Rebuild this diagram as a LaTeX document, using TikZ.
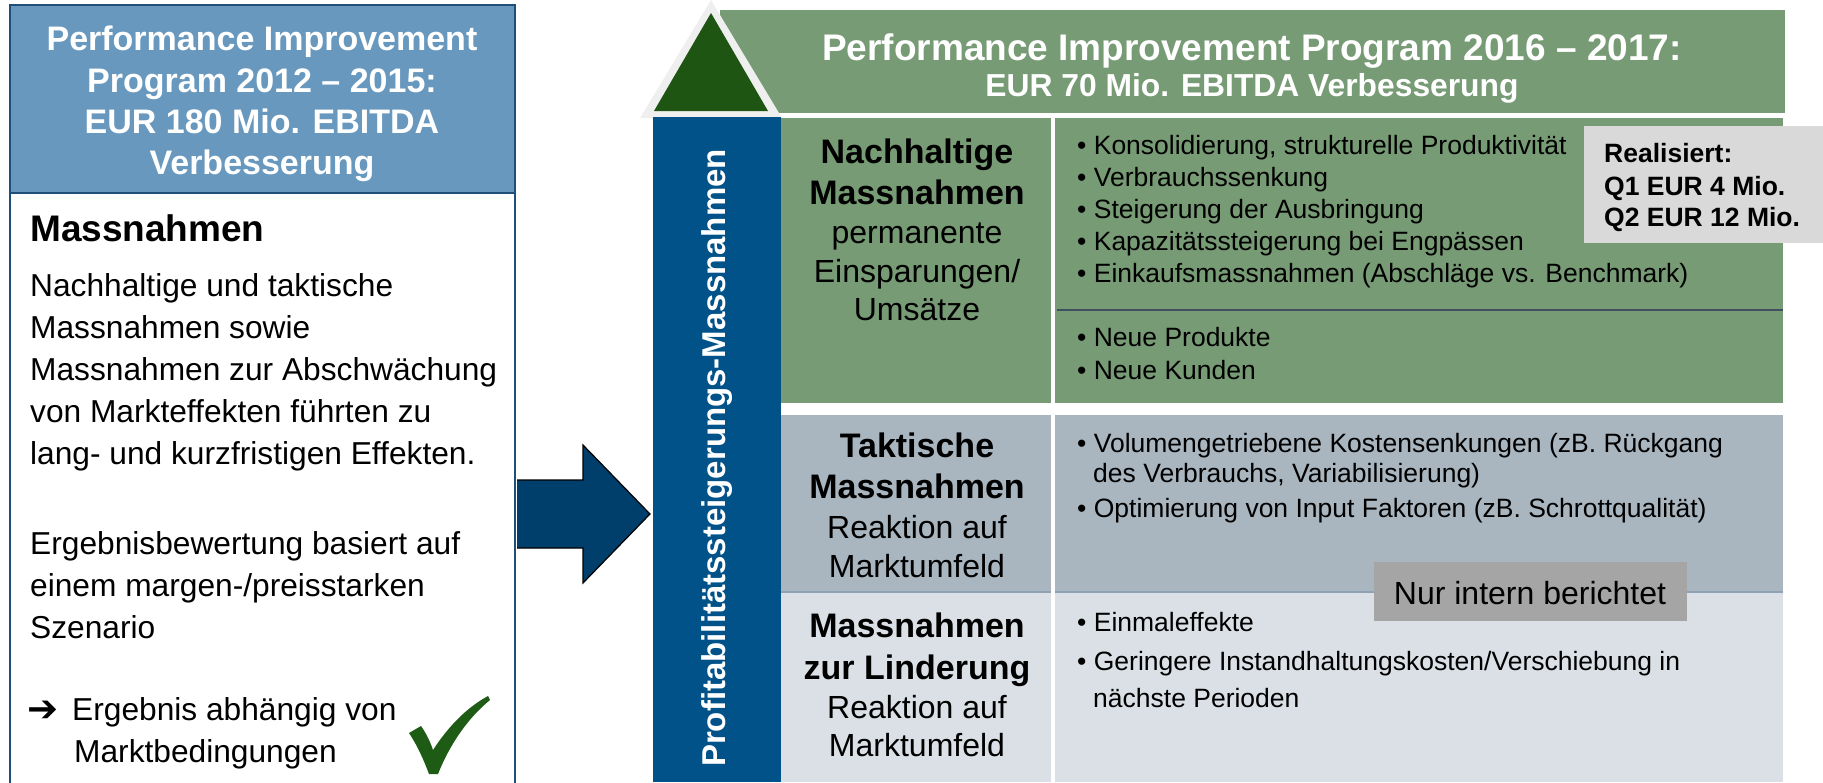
\documentclass[tikz,border=0pt]{standalone}
\usepackage{fontspec}
\setmainfont{Liberation Sans}
\newfontfamily\symbolfont{DejaVu Sans}
\usetikzlibrary{positioning}

\definecolor{headblue}{HTML}{6898BE}
\definecolor{frameblue}{HTML}{1F4E79}
\definecolor{arrowblue}{HTML}{003F6B}
\definecolor{barblue}{HTML}{005289}
\definecolor{progreen}{HTML}{779B74}
\definecolor{darkgreen}{HTML}{1E5512}
\definecolor{trigrey}{HTML}{EFEFEF}
\definecolor{rowgrey}{HTML}{A9B6C0}
\definecolor{rowlight}{HTML}{DAE0E5}
\definecolor{boxgrey}{HTML}{D9D9D9}
\definecolor{taggrey}{HTML}{A5A5A5}
\definecolor{slateline}{HTML}{3F4F5F}
\definecolor{rowline}{HTML}{8FA2B3}
\definecolor{checkgreen}{HTML}{1E5B14}

\newcommand{\fsz}[1]{\fontsize{#1}{#1}\selectfont}

\begin{document}
\begin{tikzpicture}[x=1pt,y=-1pt,
    lbl/.style={inner sep=0pt,anchor=base},
    txt/.style={inner sep=0pt,anchor=base west},
    whitebold/.style={lbl,text=white,font=\fsz{34}\bfseries},
    bodytxt/.style={txt,font=\fsz{31.7}},
    rowhead/.style={lbl,font=\fsz{34}\bfseries},
    rowsub/.style={lbl,font=\fsz{32}},
    bullet/.style={txt,font=\fsz{26.5}}]
    \useasboundingbox (0,0) rectangle (1823,782);
    \clip (0,0) rectangle (1823,782);

    % left panel: old program
    \draw[frameblue,line width=1.5pt] (10,193) rectangle (515,800);
    \draw[frameblue,line width=2pt,fill=headblue] (10,5) rectangle (515,193);
    \node[whitebold] (old1) at (262,50) {Performance Improvement};
    \node[whitebold] (old2) at (262,92) {Program 2012 – 2015:};
    \node[whitebold] (old3) at (262,133) {EUR 180 Mio. EBITDA};
    \node[whitebold] (old4) at (262,174) {Verbesserung};

    \node[txt,font=\fsz{37}\bfseries] (mhead) at (30,241) {Massnahmen};
    \node[bodytxt] (lt1) at (30,296) {Nachhaltige und taktische};
    \node[bodytxt] (lt2) at (30,338) {Massnahmen sowie};
    \node[bodytxt] (lt3) at (30,380) {Massnahmen zur Abschwächung};
    \node[bodytxt] (lt4) at (30,422) {von Markteffekten führten zu};
    \node[bodytxt] (lt5) at (30,464) {lang- und kurzfristigen Effekten.};
    \node[bodytxt] (lt6) at (30,554) {Ergebnisbewertung basiert auf};
    \node[bodytxt] (lt7) at (30,596) {einem margen-/preisstarken};
    \node[bodytxt] (lt8) at (30,638) {Szenario};
    \node[txt,font=\fsz{37}\symbolfont\bfseries] (larr) at (27,721) {➔};
    \node[bodytxt] (lt9) at (72,720) {Ergebnis abhängig von};
    \node[bodytxt] (lt10) at (74,762) {Marktbedingungen};

    % check mark
    \fill[checkgreen] (409,733) -- (421,726) .. controls (426,733) and (430,741) .. (433,750)
        .. controls (448,727) and (466,708) .. (488,696) -- (490,700)
        .. controls (468,718) and (450,744) .. (438,774) -- (429,774)
        .. controls (423,758) and (417,745) .. (409,733) -- cycle;

    % big arrow
    \fill[arrowblue] (517,480) -- (583,480) -- (583,445) -- (650,514) -- (583,583) -- (583,548) -- (517,548) -- cycle;
    \draw[black,line width=1.2pt,line join=miter] (517,480) -- (583,480) -- (583,445) -- (650,514) -- (583,583) -- (583,548) -- (517,548);

    % right panel: new program
    \fill[progreen] (720,10) rectangle (1785,113);
    \fill[trigrey] (711,0) -- (782,118) -- (640,118) -- cycle;
    \fill[darkgreen] (711,13) -- (768,111) -- (654,111) -- cycle;
    \fill[barblue] (653,117) rectangle (781,782);
    \fill[progreen] (781,118) rectangle (1051,403);
    \fill[progreen] (1055,118) rectangle (1783,403);
    \fill[rowgrey] (781,415) rectangle (1051,592);
    \fill[rowgrey] (1055,415) rectangle (1783,592);
    \fill[rowlight] (781,592) rectangle (1051,782);
    \fill[rowlight] (1055,592) rectangle (1783,782);
    \draw[rowline,line width=1.2pt] (781,592) -- (1051,592) (1055,592) -- (1783,592);
    \draw[slateline,line width=1.5pt] (1057,310) -- (1783,310);

    \node[lbl,text=white,font=\fsz{37}\bfseries] (new1) at (1252,60) {Performance Improvement Program 2016 – 2017:};
    \node[lbl,text=white,font=\fsz{31.8}\bfseries] (new2) at (1252,96) {EUR 70 Mio. EBITDA Verbesserung};
    \node[text=white,font=\fsz{33}\bfseries,rotate=90,inner sep=0pt] (vbar) at (717,458) {Profitabilitätssteigerungs-Massnahmen};

    % row labels
    \node[rowhead] (r1a) at (917,163) {Nachhaltige};
    \node[rowhead] (r1b) at (917,204) {Massnahmen};
    \node[rowsub] (r1c) at (917,243) {permanente};
    \node[rowsub] (r1d) at (917,282) {Einsparungen/};
    \node[rowsub] (r1e) at (917,320) {Umsätze};
    \node[rowhead] (r2a) at (917,457) {Taktische};
    \node[rowhead] (r2b) at (917,498) {Massnahmen};
    \node[rowsub] (r2c) at (917,538) {Reaktion auf};
    \node[rowsub] (r2d) at (917,577) {Marktumfeld};
    \node[rowhead] (r3a) at (917,637) {Massnahmen};
    \node[rowhead] (r3b) at (917,679) {zur Linderung};
    \node[rowsub] (r3c) at (917,718) {Reaktion auf};
    \node[rowsub] (r3d) at (917,756) {Marktumfeld};

    % bullet lists
    \node[bullet] (b1) at (1077,154) {• Konsolidierung, strukturelle Produktivität};
    \node[bullet] (b2) at (1077,186) {• Verbrauchssenkung};
    \node[bullet] (b3) at (1077,218) {• Steigerung der Ausbringung};
    \node[bullet] (b4) at (1077,250) {• Kapazitätssteigerung bei Engpässen};
    \node[bullet] (b5) at (1077,282) {• Einkaufsmassnahmen (Abschläge vs. Benchmark)};
    \node[bullet] (b6) at (1077,346) {• Neue Produkte};
    \node[bullet] (b7) at (1077,379) {• Neue Kunden};
    \node[bullet] (b8) at (1077,452) {• Volumengetriebene Kostensenkungen (zB. Rückgang};
    \node[bullet] (b8b) at (1093,482) {des Verbrauchs, Variabilisierung)};
    \node[bullet] (b9) at (1077,517) {• Optimierung von Input Faktoren (zB. Schrottqualität)};
    \node[bullet] (b10) at (1077,631) {• Einmaleffekte};
    \node[bullet] (b11) at (1077,670) {• Geringere Instandhaltungskosten/Verschiebung in};
    \node[bullet] (b11b) at (1093,707) {nächste Perioden};

    % side boxes
    \fill[boxgrey] (1584,126) rectangle (1823,243);
    \node[txt,font=\fsz{26.5}\bfseries] (real1) at (1604,162) {Realisiert:};
    \node[txt,font=\fsz{26.5}\bfseries] (real2) at (1604,195) {Q1 EUR 4 Mio.};
    \node[txt,font=\fsz{26.5}\bfseries] (real3) at (1604,226) {Q2 EUR 12 Mio.};
    \fill[taggrey] (1374,562) rectangle (1687,621);
    \node[lbl,font=\fsz{32}] (intern) at (1530,604) {Nur intern berichtet};
\end{tikzpicture}
\end{document}
